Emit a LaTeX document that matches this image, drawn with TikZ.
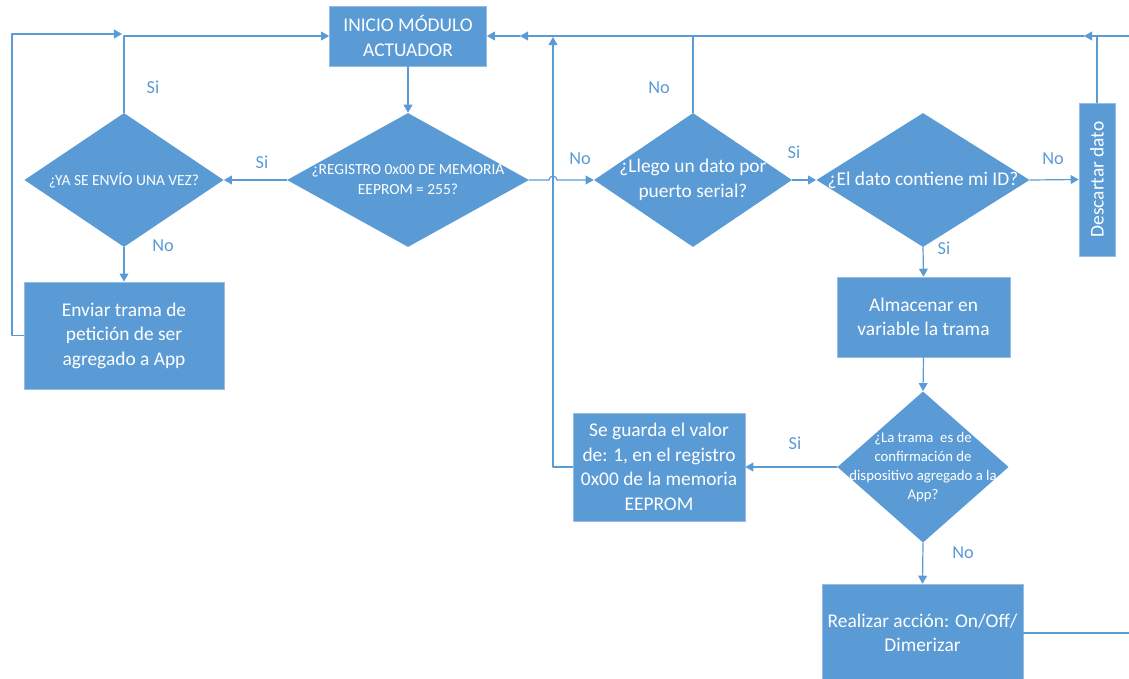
\documentclass[tikz,border=0pt]{standalone}
\usepackage{fontspec}
\setmainfont{Carlito}
\usetikzlibrary{arrows.meta, shapes.geometric}
\definecolor{azul}{RGB}{91,155,213}
\definecolor{borde}{RGB}{150,188,228}
\begin{document}
\begin{tikzpicture}[x=0.025cm, y=-0.025cm, line join=round, line cap=round,
  caja/.style={rectangle, fill=azul, draw=borde, line width=0.4pt, text=white, align=center, inner sep=0pt, font=\fontsize{13.8}{17.4}\selectfont},
  rombo/.style={diamond, fill=azul, inner sep=0pt},
  texto/.style={text=white, align=center, inner sep=0pt, font=\fontsize{13.8}{17.4}\selectfont},
  chico/.style={text=white, align=center, inner sep=0pt, font=\fontsize{11}{14.2}\selectfont},
  mini/.style={text=white, align=center, inner sep=0pt, font=\fontsize{10.5}{13.5}\selectfont},
  etiq/.style={text=azul, font=\fontsize{13}{15}\selectfont},
  linea/.style={azul, line width=0.85pt},
  flecha/.style={linea, -{Triangle[length=2mm,width=2.2mm]}}]
\useasboundingbox (0,0) rectangle (1129,678);
\coordinate (topR) at (1135,36);
\coordinate (jDes) at (1097,36);
\coordinate (pDes) at (1084,36);
\coordinate (jLle) at (693,36);
\coordinate (jGua) at (553,37);
\coordinate (pIni) at (520,36);
\coordinate (jYa) at (124,36);
\coordinate (izq) at (12,34);
\coordinate (pYa) at (122,34);
\coordinate (hopA) at (549,180);
\coordinate (hopB) at (557,180);
\coordinate (reaR) at (1135,633);
\node[caja, minimum width=3.93cm, minimum height=1.5cm] (ini) at (408,36) {INICIO MÓDULO\\ACTUADOR};
\node[rombo, minimum width=6.05cm, minimum height=3.35cm] (reg) at (408,180) {};
\node[chico] (regT) at (reg) {¿REGISTRO 0x00 DE MEMORIA\\EEPROM = 255?};
\node[rombo, minimum width=4.98cm, minimum height=3.35cm] (ya) at (124,180) {};
\node[chico] (yaT) at (ya) {¿YA SE ENVÍO UNA VEZ?};
\node[caja, minimum width=5cm, minimum height=2.68cm] (env) at (124,335.5) {Enviar trama de\\petición de ser\\agregado a App};
\node[rombo, minimum width=4.95cm, minimum height=3.35cm] (lle) at (693,180) {};
\node[texto] (lleT) at (lle) {¿Llego un dato por\\puerto serial?};
\node[rombo, minimum width=5.33cm, minimum height=3.35cm] (eld) at (923,180) {};
\node[texto] (eldT) at (eld) {¿El dato contiene mi ID?};
\node[caja, minimum width=0.9cm, minimum height=3.83cm] (des) at (1097,179.5) {};
\node[texto, rotate=90] (desT) at (des) {Descartar dato};
\node[caja, minimum width=4.33cm, minimum height=2cm] (alm) at (923.5,317) {Almacenar en\\variable la trama};
\node[rombo, minimum width=4.28cm, minimum height=3.78cm] (lat) at (923,467) {};
\node[mini] (latT) at (lat) {¿La trama\ \ es de\\confirmación de\\dispositivo agregado a la\\App?};
\node[caja, minimum width=4.3cm, minimum height=2.7cm] (gua) at (659,467) {Se guarda el valor\\de: 1, en el registro\\0x00 de la memoria\\EEPROM};
\node[caja, minimum width=5.03cm, minimum height=2.45cm] (rea) at (922.5,633) {Realizar acción: On/Off/\\Dimerizar};
\draw[flecha] (ini.south) -- (reg.north);
\draw[flecha] (reg.west) -- (ya.east);
\draw[flecha] (ya.north) -- (jYa) -- (ini.west);
\draw[flecha] (ya.south) -- (env.north);
\draw[flecha] (env.west) -| (izq) -- (pYa);
\draw[flecha] (reg.east) -- (hopA) .. controls (549,175) and (557,175) .. (hopB) -- (lle.west);
\draw[flecha] (lle.east) -- (eld.west);
\draw[linea] (lle.north) -- (jLle);
\draw[flecha] (eld.east) -- (des.west);
\draw[linea] (des.north) -- (jDes);
\draw[linea] (topR) -- (jDes);
\draw[flecha] (jDes) -- (pDes);
\draw[flecha] (pDes) -- (pIni);
\draw[flecha] (pIni) -- (ini.east);
\draw[flecha] (eld.south) -- (alm.north);
\draw[flecha] (alm.south) -- (lat.north);
\draw[flecha] (lat.west) -- (gua.east);
\draw[flecha] (gua.west) -| (jGua);
\draw[flecha] (lat.south) -- (rea.north);
\draw[linea] (rea.east) -- (reaR);
\node[etiq] (si1) at (153,87) {Si};
\node[etiq] (si2) at (262,162) {Si};
\node[etiq] (no1) at (163,246) {No};
\node[etiq] (no2) at (580,159) {No};
\node[etiq] (no3) at (659,88) {No};
\node[etiq] (si3) at (794,152) {Si};
\node[etiq] (no4) at (1053,159) {No};
\node[etiq] (si4) at (944,248) {Si};
\node[etiq] (si5) at (795,443) {Si};
\node[etiq] (no5) at (963,553) {No};
\end{tikzpicture}
\end{document}
